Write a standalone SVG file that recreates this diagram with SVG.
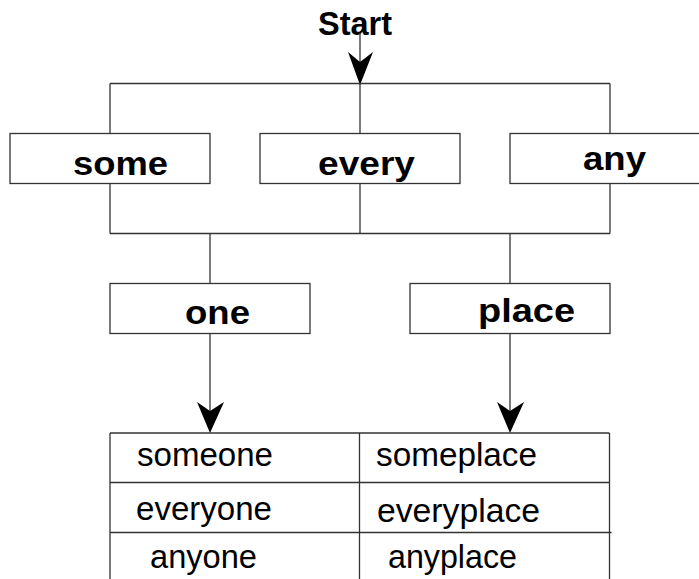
<svg xmlns="http://www.w3.org/2000/svg" width="699" height="579" viewBox="0 0 699 579">
  <defs>
    <style>
      .ln { stroke: #333; stroke-width: 1.3; fill: none; }
      .box { stroke: #333; stroke-width: 1.3; fill: #fff; }
      .head { fill: #000; stroke: none; }
      .lbl { font-family: "Liberation Sans", Arial, sans-serif; font-weight: bold; font-size: 33px; fill: #000; }
      .cell { font-family: "Liberation Sans", Arial, sans-serif; font-size: 33px; fill: #000; }
    </style>
  </defs>
  <rect width="699" height="579" fill="#fff"/>

  <g id="start">
    <text class="lbl" x="318" y="35" textLength="74" lengthAdjust="spacingAndGlyphs">Start</text>
  </g>

  <g id="connectors">
    <!-- entry arrow -->
    <line class="ln" x1="360" y1="33" x2="360" y2="80"/>
    <path class="head" d="M348,52 L360,62 L373,52 L360,85 Z"/>
    <!-- fan out to the three prefixes -->
    <line class="ln" x1="110" y1="83.5" x2="610" y2="83.5"/>
    <line class="ln" x1="110" y1="83.5" x2="110" y2="133.5"/>
    <line class="ln" x1="360" y1="83.5" x2="360" y2="133.5"/>
    <line class="ln" x1="610" y1="83.5" x2="610" y2="133.5"/>
    <!-- join -->
    <line class="ln" x1="110" y1="183.5" x2="110" y2="233.5"/>
    <line class="ln" x1="360" y1="183.5" x2="360" y2="233.5"/>
    <line class="ln" x1="610" y1="183.5" x2="610" y2="233.5"/>
    <line class="ln" x1="110" y1="233.5" x2="610" y2="233.5"/>
    <!-- to the suffixes -->
    <line class="ln" x1="210" y1="233.5" x2="210" y2="283.5"/>
    <line class="ln" x1="510" y1="233.5" x2="510" y2="283.5"/>
    <!-- down to the table -->
    <line class="ln" x1="210" y1="333.5" x2="210" y2="428"/>
    <path class="head" d="M197,402 L210,411 L224,402 L210,433 Z"/>
    <line class="ln" x1="510" y1="333.5" x2="510" y2="428"/>
    <path class="head" d="M497,402 L510,411 L524,402 L510,433 Z"/>
  </g>

  <g id="some">
    <rect class="box" x="10" y="133.5" width="200" height="50"/>
    <text class="lbl" x="73" y="175" textLength="95" lengthAdjust="spacingAndGlyphs">some</text>
  </g>
  <g id="every">
    <rect class="box" x="260" y="133.5" width="200" height="50"/>
    <text class="lbl" x="318" y="175" textLength="97" lengthAdjust="spacingAndGlyphs">every</text>
  </g>
  <g id="any">
    <rect class="box" x="510" y="133.5" width="200" height="50"/>
    <text class="lbl" x="583" y="169.5" textLength="63" lengthAdjust="spacingAndGlyphs">any</text>
  </g>
  <g id="one">
    <rect class="box" x="110" y="283.5" width="200" height="50"/>
    <text class="lbl" x="185" y="323.5" textLength="65" lengthAdjust="spacingAndGlyphs">one</text>
  </g>
  <g id="place">
    <rect class="box" x="410" y="283.5" width="200" height="50"/>
    <text class="lbl" x="478" y="322" textLength="97" lengthAdjust="spacingAndGlyphs">place</text>
  </g>

  <g id="table">
    <line class="ln" x1="110" y1="433" x2="609.5" y2="433"/>
    <line class="ln" x1="110" y1="482.5" x2="609.5" y2="482.5"/>
    <line class="ln" x1="110" y1="532.5" x2="611.5" y2="532.5"/>
    <line class="ln" x1="110" y1="433" x2="110" y2="579"/>
    <line class="ln" x1="359.5" y1="433" x2="359.5" y2="579"/>
    <line class="ln" x1="609.5" y1="433" x2="609.5" y2="579"/>
    <text class="cell" x="137" y="465.5" textLength="136" lengthAdjust="spacingAndGlyphs">someone</text>
    <text class="cell" x="136" y="520" textLength="136" lengthAdjust="spacingAndGlyphs">everyone</text>
    <text class="cell" x="150" y="568" textLength="107" lengthAdjust="spacingAndGlyphs">anyone</text>
    <text class="cell" x="376" y="465.5" textLength="161" lengthAdjust="spacingAndGlyphs">someplace</text>
    <text class="cell" x="377" y="521.5" textLength="163" lengthAdjust="spacingAndGlyphs">everyplace</text>
    <text class="cell" x="388" y="568" textLength="129" lengthAdjust="spacingAndGlyphs">anyplace</text>
  </g>
</svg>
